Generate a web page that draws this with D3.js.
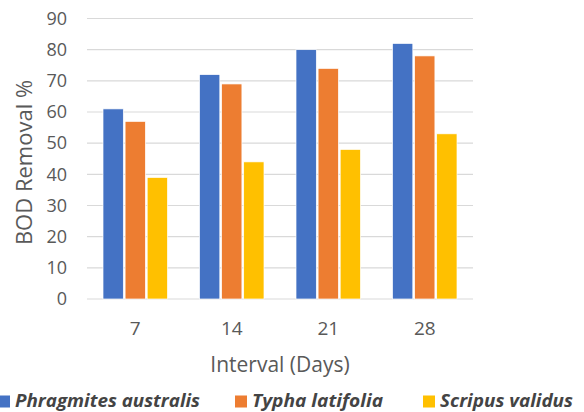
<!DOCTYPE html>
<html>
<head>
<meta charset="utf-8">
<script src="https://cdn.jsdelivr.net/npm/d3@7"></script>
<style>
  html, body { margin: 0; padding: 0; background: #fff; }
  svg { display: block; font-family: "Open Sans", "Noto Sans", sans-serif; }
</style>
</head>
<body>
<svg id="chart" width="584" height="412"></svg>
<script>
// Interval groups and BOD removal per plant species
const intervals = ["7", "14", "21", "28"];
const species = ["Phragmites australis", "Typha latifolia", "Scripus validus"];
const phragmites = [61, 72, 80, 82];
const typha = [57, 69, 74, 78];
const scripus = [39, 44, 48, 53];
const yTicks = [0, 10, 20, 30, 40, 50, 60, 70, 80, 90];
const colors = ["#4472C4", "#ED7D31", "#FFC000"];

const seriesValues = [phragmites, typha, scripus];

const svg = d3.select("#chart");
const plot = { left: 87, right: 473, top: 18.5, bottom: 299 };

const x = d3.scaleBand().domain(intervals).range([plot.left, plot.right]);
const inner = d3.scaleBand().domain(species).range([0, 64.5]).paddingInner(0.08);
const y = d3.scaleLinear().domain([0, 90]).range([plot.bottom, plot.top]);

// Horizontal gridlines
svg.append("g")
  .selectAll("line")
  .data(yTicks)
  .join("line")
  .attr("x1", plot.left).attr("x2", plot.right)
  .attr("y1", d => y(d)).attr("y2", d => y(d))
  .attr("stroke", "#D9D9D9").attr("stroke-width", 1.2);

// Y axis tick labels
const yAxis = d3.axisLeft(y).tickValues(yTicks).tickSize(0).tickPadding(20);
const gy = svg.append("g").attr("transform", `translate(${plot.left},0)`).call(yAxis);
gy.select(".domain").remove();
gy.selectAll("text")
  .attr("font-size", 18).attr("fill", "#595959")
  .attr("font-family", "\"Open Sans\", sans-serif");

// X axis category labels
const xAxis = d3.axisBottom(x).tickSize(0).tickPadding(0);
const gx = svg.append("g").attr("transform", `translate(0,${plot.bottom})`).call(xAxis);
gx.select(".domain").remove();
gx.selectAll("text")
  .attr("y", 36).attr("dy", null)
  .attr("font-size", 19).attr("fill", "#595959")
  .attr("font-family", "\"Open Sans\", sans-serif");

// Bars
const groupOffset = (x.bandwidth() - 64.5) / 2;
species.forEach((s, si) => {
  svg.append("g")
    .selectAll("rect")
    .data(seriesValues[si].map((v, i) => ({ cat: intervals[i], v })))
    .join("rect")
    .attr("x", d => x(d.cat) + groupOffset + inner(s))
    .attr("y", d => y(d.v))
    .attr("width", inner.bandwidth())
    .attr("height", d => y(0) - y(d.v))
    .attr("fill", colors[si])
    .attr("stroke", "#fff").attr("stroke-width", 0.7);
});

// Axis titles
svg.append("text")
  .attr("x", (plot.left + plot.right) / 2).attr("y", 371.5)
  .attr("text-anchor", "middle")
  .attr("font-size", 21).attr("fill", "#595959")
  .text("Interval (Days)");

svg.append("text")
  .attr("transform", `translate(31.5,${162.5}) rotate(-90)`)
  .attr("text-anchor", "middle")
  .attr("font-size", 22).attr("fill", "#595959")
  .text("BOD Removal %");

// Legend
const legendX = [-2, 235, 423];
const legendW = [185, 131, 133];
const legend = svg.append("g");
species.forEach((s, i) => {
  legend.append("rect")
    .attr("x", legendX[i]).attr("y", 395.5)
    .attr("width", 12).attr("height", 12)
    .attr("fill", colors[i]);
  legend.append("text")
    .attr("x", legendX[i] + 17).attr("y", 407)
    .attr("font-size", 17.5).attr("font-weight", "bold").attr("font-style", "italic")
    .attr("fill", "#444444")
    .attr("textLength", legendW[i]).attr("lengthAdjust", "spacingAndGlyphs")
    .text(s);
});
</script>
</body>
</html>
